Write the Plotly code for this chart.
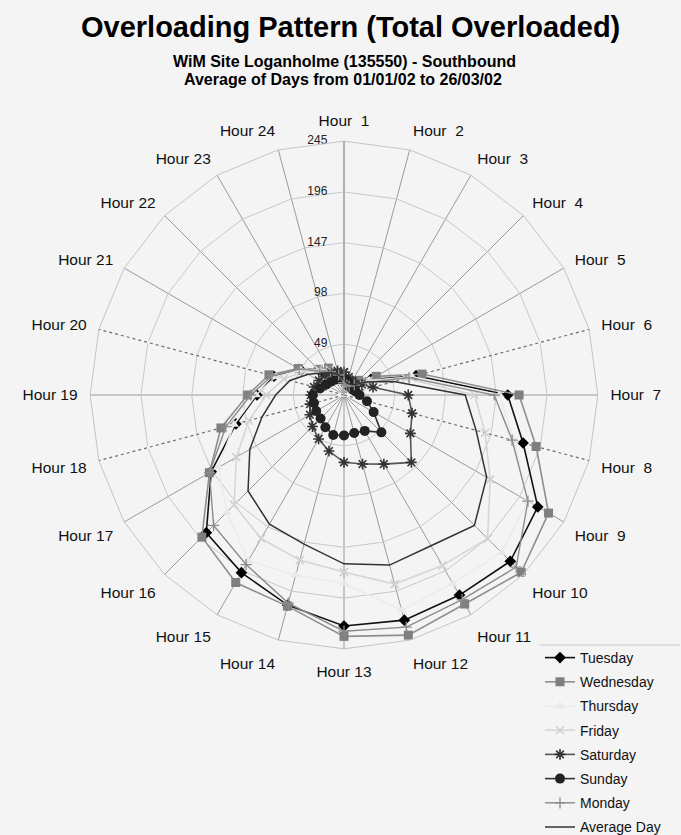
import plotly.graph_objects as go

# Hourly categories (clockwise from the top)
hours = [f"Hour \u00a0{h}" if h < 10 else f"Hour {h}" for h in range(1, 25)]

# Average overloaded vehicles per hour, by day of week
tuesday = [12, 10, 12, 18, 30, 72, 158, 179, 216, 227, 223, 225,
           223, 210, 198, 188, 148, 108, 84, 70, 48, 32, 26, 18]
wednesday = [15, 12, 15, 20, 36, 78, 169, 192, 228, 242, 233, 240,
             233, 211, 209, 194, 150, 123, 93, 75, 51, 35, 30, 22]
thursday = [12, 10, 12, 16, 28, 68, 150, 170, 205, 215, 210, 215,
            182, 180, 185, 160, 140, 110, 85, 68, 48, 32, 25, 18]
friday = [13, 11, 12, 16, 27, 62, 126, 141, 163, 196, 190, 189,
          171, 165, 160, 150, 120, 95, 75, 60, 45, 35, 28, 22]
saturday = [22, 18, 16, 16, 20, 29, 62, 68, 74, 92, 77, 69,
            65, 56, 49, 43, 38, 34, 32, 30, 28, 26, 25, 24]
sunday = [15, 14, 12, 10, 10, 12, 15, 23, 33, 51, 40, 38,
          39, 40, 36, 32, 31, 30, 30, 24, 20, 18, 17, 16]
monday = [12, 10, 10, 14, 24, 65, 145, 168, 205, 235, 228, 232,
          228, 208, 189, 178, 150, 118, 90, 72, 50, 33, 26, 20]
average_day = [14, 12, 12, 14, 25, 50, 117, 132, 159, 178, 168, 170,
               163, 149, 144, 131, 105, 82, 66, 54, 40, 30, 25, 20]

radial_ticks = [49, 98, 147, 196, 245]
dotted_spokes = ["Hour \u00a06", "Hour \u00a08", "Hour 18", "Hour 20"]

BG = "#f4f4f4"
FONT = "Liberation Sans, Arial, sans-serif"

series = [
    ("Tuesday", tuesday, "#111111", "#000000", "diamond", 9, 1.6),
    ("Wednesday", wednesday, "#8e8e8e", "#7f7f7f", "square", 9, 1.6),
    ("Thursday", thursday, "#ececec", "#e8e8e8", "triangle-up", 9, 1.6),
    ("Friday", friday, "#d6d6d6", "#d0d0d0", "x-thin-open", 8, 1.6),
    ("Saturday", saturday, "#555555", "#333333", "asterisk-open", 9, 1.6),
    ("Sunday", sunday, "#333333", "#222222", "circle", 10, 1.6),
    ("Monday", monday, "#8c8c8c", "#8c8c8c", "cross-thin-open", 8, 1.4),
    ("Average Day", average_day, "#333333", None, None, 0, 1.5),
]

fig = go.Figure()

# Dotted spokes: mask the solid grid spoke, then redraw it dotted
for h in dotted_spokes:
    fig.add_trace(go.Scatterpolar(
        r=[0, radial_ticks[-1]], theta=[h, h], mode="lines",
        line=dict(color=BG, width=2.5), showlegend=False, hoverinfo="skip"))
    fig.add_trace(go.Scatterpolar(
        r=[0, radial_ticks[-1]], theta=[h, h], mode="lines",
        line=dict(color="#6e6e6e", width=1.2, dash="dot"),
        showlegend=False, hoverinfo="skip"))

# Radial scale labels, set just left of the Hour 1 spoke
fig.add_trace(go.Scatterpolar(
    r=radial_ticks, theta=[hours[0]] * len(radial_ticks), mode="text",
    text=[f"{v}" + "\u00a0" * 5 for v in radial_ticks],
    textposition="middle left", cliponaxis=False,
    textfont=dict(size=12, color="#222222", family=FONT),
    showlegend=False, hoverinfo="skip"))

for i, (name, vals, lcol, mcol, sym, msize, lw) in enumerate(series):
    r = vals + vals[:1]
    th = hours + hours[:1]
    if sym is None:
        fig.add_trace(go.Scatterpolar(
            r=r, theta=th, mode="lines", name=name, legendgroup=str(i),
            line=dict(color=lcol, width=lw)))
    else:
        mk = dict(symbol=sym, size=msize, color=mcol)
        if sym.endswith("open"):
            mk["line"] = dict(color=mcol, width=1.3 if name == "Monday" else 1.6)
        fig.add_trace(go.Scatterpolar(
            r=r, theta=th, mode="lines+markers", name=name, legendgroup=str(i),
            line=dict(color=lcol, width=lw), marker=mk))

W, H = 681, 835
cx, cy, rad = 344, 395, 253.8

fig.update_layout(
    width=W, height=H,
    margin=dict(l=0, r=0, t=0, b=0, autoexpand=False),
    paper_bgcolor=BG, plot_bgcolor=BG,
    font=dict(family=FONT, color="#111111"),
    polar=dict(
        domain=dict(x=[(cx - rad) / W, (cx + rad) / W],
                    y=[1 - (cy + rad) / H, 1 - (cy - rad) / H]),
        bgcolor=BG,
        gridshape="linear",
        angularaxis=dict(
            type="category", categoryarray=hours, rotation=90,
            direction="clockwise", showgrid=True, gridcolor="#9a9a9a",
            gridwidth=1, showline=True, linecolor="#c4c4c4", linewidth=1,
            ticks="outside", ticklen=9, tickcolor=BG,
            tickfont=dict(size=15.5, color="#111111", family=FONT)),
        radialaxis=dict(
            range=[0, 245], tickvals=radial_ticks, angle=90,
            showline=True, linecolor="#9a9a9a",
            gridcolor="#c8c8c8", ticks="", showticklabels=False),
    ),
    legend=dict(
        x=540 / W, y=1 - 642 / H, xanchor="left", yanchor="top",
        bgcolor="rgba(0,0,0,0)", font=dict(size=14, family=FONT, color="#111111"),
        tracegroupgap=3, itemwidth=30),
    showlegend=True,
)

# Legend top rule
fig.add_shape(type="line", xref="paper", yref="paper",
              x0=540 / W, x1=680 / W, y0=1 - 645 / H, y1=1 - 645 / H,
              line=dict(color="#c8c8c8", width=1))

titles = [
    ("Overloading Pattern (Total Overloaded)", 350, 27, 29),
    ("WiM Site Loganholme (135550) - Southbound", 344, 61, 16),
    ("Average of Days from 01/01/02 to 26/03/02", 343, 80, 16),
]
for text, x, y, size in titles:
    fig.add_annotation(text=f"<b>{text}</b>", x=x / W, y=1 - y / H,
                       xref="paper", yref="paper", showarrow=False,
                       xanchor="center", yanchor="middle",
                       font=dict(size=size, family=FONT, color="#000000"))

fig.write_html("out.html")
